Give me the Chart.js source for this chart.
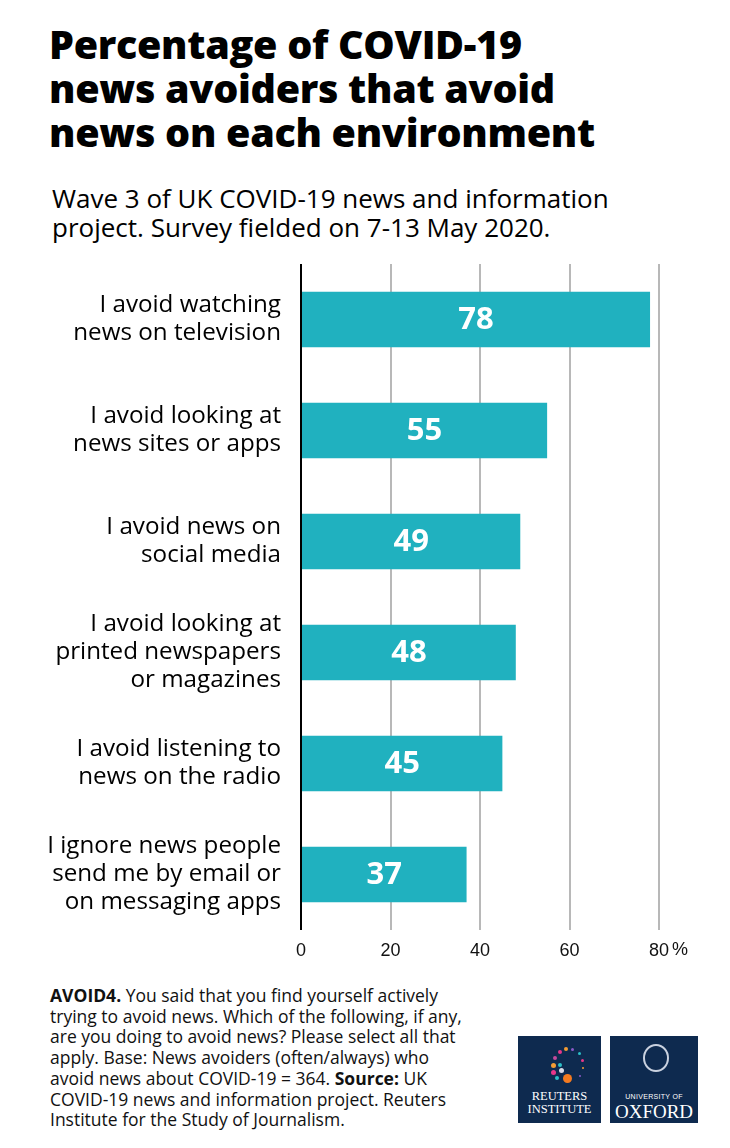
<!DOCTYPE html>
<html>
<head>
<meta charset="utf-8">
<script src="https://cdn.jsdelivr.net/npm/chart.js@4"></script>
<style>
  html, body { margin: 0; padding: 0; background: #fff; }
  body { width: 730px; height: 1148px; position: relative; overflow: hidden; font-family: "Open Sans", Lato, sans-serif; color: #000; }
  #title { position: absolute; left: 49px; top: 22px; font-size: 39.5px; font-weight: 800; line-height: 44px; letter-spacing: -0.3px; }
  #subtitle { position: absolute; left: 52px; top: 184px; font-size: 26px; line-height: 29px; }
  #chartBox { position: absolute; left: 0; top: 252px; width: 730px; height: 718px; }
  #note { position: absolute; left: 50px; top: 985px; font-size: 17.5px; line-height: 20.7px; color: #111; }
  .logo { position: absolute; top: 1036px; height: 87px; background: #0e2a4f; color: #fff; font-family: "Liberation Serif", serif; text-align: center; }
  #reuters { left: 518px; width: 83px; }
  #oxford { left: 610px; width: 88px; }
  .dot { position: absolute; border-radius: 50%; }
</style>
</head>
<body>
<div id="title">Percentage of COVID-19<br>news avoiders that avoid<br>news on each environment</div>
<div id="subtitle">Wave 3 of UK COVID-19 news and information<br>project. Survey fielded on 7-13 May 2020.</div>
<div id="chartBox"><canvas id="avoidChart"></canvas></div>
<div id="note"><b>AVOID4.</b> You said that you find yourself actively<br>trying to avoid news. Which of the following, if any,<br>are you doing to avoid news? Please select all that<br>apply. Base: News avoiders (often/always) who<br>avoid news about COVID-19 = 364. <b>Source:</b> UK<br>COVID-19 news and information project. Reuters<br>Institute for the Study of Journalism.</div>
<div class="logo" id="reuters">
  <div class="dot" style="left:40px;top:14px;width:4px;height:4px;background:#e8378a"></div>
  <div class="dot" style="left:46px;top:11px;width:4px;height:4px;background:#f39c34"></div>
  <div class="dot" style="left:53px;top:12px;width:3px;height:3px;background:#8a5ac8"></div>
  <div class="dot" style="left:60px;top:16px;width:3px;height:3px;background:#2bc0c8"></div>
  <div class="dot" style="left:63px;top:23px;width:3px;height:3px;background:#e8378a"></div>
  <div class="dot" style="left:64px;top:31px;width:2px;height:2px;background:#f39c34"></div>
  <div class="dot" style="left:61px;top:39px;width:2px;height:2px;background:#8a5ac8"></div>
  <div class="dot" style="left:35px;top:20px;width:4px;height:4px;background:#c34a9b"></div>
  <div class="dot" style="left:33px;top:27px;width:5px;height:5px;background:#f39c34"></div>
  <div class="dot" style="left:40px;top:27px;width:4px;height:4px;background:#2bc0c8"></div>
  <div class="dot" style="left:33px;top:34px;width:5px;height:5px;background:#e8378a"></div>
  <div class="dot" style="left:41px;top:32px;width:5px;height:5px;background:#d9d9e6"></div>
  <div class="dot" style="left:37px;top:40px;width:4px;height:4px;background:#2bc0c8"></div>
  <div class="dot" style="left:45px;top:38px;width:9px;height:9px;background:#f47a20"></div>
  <div style="position:absolute;left:0;right:0;top:54px;font-size:12.5px;line-height:13px;">REUTERS<br>INSTITUTE</div>
</div>
<div class="logo" id="oxford">
  <div class="dot" style="left:33px;top:8px;width:22px;height:24px;border:2px solid #c9d1df;"></div>
  <div style="position:absolute;left:0;right:0;top:57px;font-family:'Liberation Sans',sans-serif;font-size:7px;letter-spacing:0.3px;">UNIVERSITY OF</div>
  <div style="position:absolute;left:0;right:0;top:66px;font-size:19px;line-height:20px;">OXFORD</div>
</div>
<script>
const categories = [
  ['I avoid watching', 'news on television'],
  ['I avoid looking at', 'news sites or apps'],
  ['I avoid news on', 'social media'],
  ['I avoid looking at', 'printed newspapers', 'or magazines'],
  ['I avoid listening to', 'news on the radio'],
  ['I ignore news people', 'send me by email or', 'on messaging apps']
];
const values = [78, 55, 49, 48, 45, 37];
const xTicks = [0, 20, 40, 60, 80];

const barColor = '#20b1bf';

// white numbers in the middle of each bar, plus the % after the last tick
const barLabels = {
  id: 'barLabels',
  afterDatasetsDraw(chart) {
    const { ctx } = chart;
    const meta = chart.getDatasetMeta(0);
    ctx.save();
    ctx.fillStyle = '#fff';
    ctx.font = '700 31px "Open Sans", sans-serif';
    ctx.textAlign = 'center';
    ctx.textBaseline = 'middle';
    meta.data.forEach((bar, i) => {
      ctx.fillText(values[i], (bar.base + bar.x) / 2, bar.y + 1);
    });
    const xs = chart.scales.x;
    ctx.fillStyle = '#111';
    ctx.font = '18px "Liberation Sans", sans-serif';
    ctx.textAlign = 'left';
    ctx.fillText('%', xs.getPixelForValue(80) + 13, xs.top + 20);
    ctx.restore();
  }
};

new Chart(document.getElementById('avoidChart'), {
  type: 'bar',
  data: {
    labels: categories,
    datasets: [{
      data: values,
      backgroundColor: barColor,
      borderWidth: 0,
      barPercentage: 0.5,
      categoryPercentage: 1
    }]
  },
  options: {
    indexAxis: 'y',
    responsive: true,
    maintainAspectRatio: false,
    animation: false,
    layout: { padding: { top: 12, right: 71, left: 0, bottom: 0 } },
    plugins: { legend: { display: false }, tooltip: { enabled: false } },
    scales: {
      x: {
        min: 0,
        max: 80,
        afterBuildTicks: s => { s.ticks = xTicks.map(v => ({ value: v })); },
        afterFit: s => { s.height = 40; s.paddingLeft = 0; s.paddingRight = 0; },
        border: { display: false },
        grid: {
          drawTicks: false,
          lineWidth: 2,
          color: c => c.tick && c.tick.value === 0 ? '#000' : '#b8b8b8'
        },
        ticks: {
          padding: 10,
          color: '#111',
          font: { family: '"Liberation Sans", sans-serif', size: 18 }
        }
      },
      y: {
        afterFit: s => { s.width = 301; s.paddingTop = 0; s.paddingBottom = 0; },
        border: { display: false },
        grid: { display: false, drawTicks: false },
        ticks: {
          padding: 20,
          color: '#000',
          font: { family: '"Open Sans", sans-serif', size: 24.2, lineHeight: '28px' }
        }
      }
    }
  },
  plugins: [barLabels]
});
</script>
</body>
</html>
